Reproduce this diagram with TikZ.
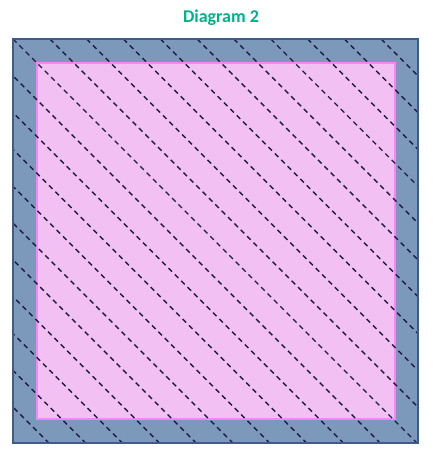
\documentclass[tikz,border=0pt]{standalone}
\usepackage{fontspec}
\setmainfont{Carlito}
\definecolor{titlegreen}{RGB}{0,178,140}
\definecolor{frameblue}{RGB}{62,92,135}
\definecolor{bandblue}{RGB}{124,153,188}
\definecolor{innerpink}{RGB}{242,192,242}
\definecolor{edgepink}{RGB}{250,130,250}
\definecolor{hatchnavy}{RGB}{28,30,64}
\begin{document}
\begin{tikzpicture}[x=1pt,y=1pt]
\useasboundingbox (0,0) rectangle (432,456);

\node (title) at (221,438) {\fontsize{18}{21}\selectfont\bfseries\color{titlegreen}Diagram 2};

\fill[color=bandblue] (13,13) rectangle (418,417);
\fill[color=innerpink] (37,37) rectangle (395,393);
\draw[color=edgepink,line width=2] (37,37) rectangle (395,393);

\begin{scope}
\clip (13,13) rectangle (418,417);
\foreach \k in {-10,...,10}
  \draw[color=hatchnavy,line width=1.4,dash pattern=on 5 off 4]
    ({13+\k*36.82},417) -- ++(420,-420);
\end{scope}

\draw[color=frameblue,line width=2] (13,13) rectangle (418,417);
\end{tikzpicture}
\end{document}
